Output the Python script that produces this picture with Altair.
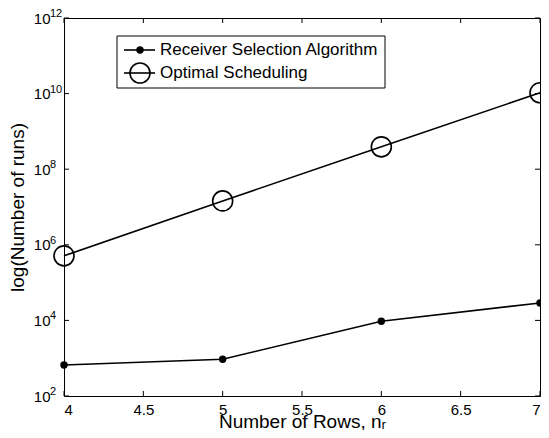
import altair as alt
import pandas as pd

# ---- data ----
nr = [4, 5, 6, 7]
receiver_runs = [660, 940, 9500, 29000]
optimal_runs = [5.1e5, 1.45e7, 3.9e8, 1.05e10]
series_names = ["Receiver Selection Algorithm", "Optimal Scheduling"]
x_ticks = [4, 4.5, 5, 5.5, 6, 6.5, 7]
y_exponents = [2, 4, 6, 8, 10, 12]
y_ticks = [10 ** e for e in y_exponents]

W, H = 476, 378
FONT = "Liberation Sans"

df = pd.DataFrame({
    "nr": nr * 2,
    "runs": receiver_runs + optimal_runs,
    "series": [series_names[0]] * len(nr) + [series_names[1]] * len(nr),
})

x_enc = alt.X(
    "nr:Q",
    scale=alt.Scale(domain=[4, 7], nice=False, zero=False),
    axis=alt.Axis(values=x_ticks, format="~g", title="Number of Rows, nᵣ",
                  ticks=False, domain=False, grid=False,
                  labelFontSize=15, labelPadding=6,
                  titleFontSize=19, titleFontWeight="normal",
                  titleY=31, titleBaseline="alphabetic"),
)
y_enc = alt.Y(
    "runs:Q",
    scale=alt.Scale(type="log", domain=[1e2, 1e12], nice=False),
    axis=alt.Axis(values=y_ticks, labelExpr="'10'", title="log(Number of runs)",
                  ticks=False, domain=False, grid=False,
                  labelFontSize=15, labelPadding=14, labelBaseline="middle",
                  titleFontSize=19, titleFontWeight="normal",
                  titleAngle=270, titleX=-37, titleY=H / 2, titleBaseline="bottom"),
)

base = alt.Chart(df)

lines = base.mark_line(color="black", strokeWidth=1.6).encode(
    x=x_enc, y=y_enc, detail="series:N")
pts_recv = base.transform_filter(alt.datum.series == series_names[0]).mark_point(
    shape="circle", filled=True, color="black", size=55, opacity=1).encode(x=x_enc, y=y_enc)
pts_opt = base.transform_filter(alt.datum.series == series_names[1]).mark_point(
    shape="circle", filled=False, color="black", size=400, strokeWidth=1.6, opacity=1).encode(x=x_enc, y=y_enc)

xt = alt.Chart(pd.DataFrame({"nr": x_ticks}))
yt = alt.Chart(pd.DataFrame({"runs": y_ticks, "exp": [str(e) for e in y_exponents]}))
tick_layers = [
    xt.mark_rule(color="black", strokeWidth=1).encode(x=x_enc, y=alt.value(H), y2=alt.value(H - 5)),
    xt.mark_rule(color="black", strokeWidth=1).encode(x=x_enc, y=alt.value(0), y2=alt.value(5)),
    yt.mark_rule(color="black", strokeWidth=1).encode(y=y_enc, x=alt.value(0), x2=alt.value(5)),
    yt.mark_rule(color="black", strokeWidth=1).encode(y=y_enc, x=alt.value(W), x2=alt.value(W - 5)),
    # exponents of the 10^n tick labels
    yt.mark_text(align="left", baseline="alphabetic", font=FONT, fontSize=11,
                 color="black", dy=-1).encode(y=y_enc, x=alt.value(-14), text="exp:N"),
]

legend_df = pd.DataFrame({"label": series_names})
lg = alt.Chart(legend_df)
legend_layers = [
    lg.transform_filter(alt.datum.label == series_names[0]).mark_rect(
        fill="white", stroke="black", strokeWidth=1).encode(
        x=alt.value(53), x2=alt.value(321), y=alt.value(18), y2=alt.value(70)),
]
row_y = [32, 55]
for i, name in enumerate(series_names):
    row = lg.transform_filter(alt.datum.label == name)
    legend_layers.append(row.mark_rule(color="black", strokeWidth=1.6).encode(
        x=alt.value(60), x2=alt.value(91), y=alt.value(row_y[i])))
    if i == 0:
        legend_layers.append(row.mark_point(shape="circle", filled=True, color="black",
                                            size=55, opacity=1).encode(
            x=alt.value(76), y=alt.value(row_y[i])))
    else:
        legend_layers.append(row.mark_point(shape="circle", filled=False, color="black",
                                            size=400, strokeWidth=1.6, opacity=1).encode(
            x=alt.value(76), y=alt.value(row_y[i])))
    legend_layers.append(row.mark_text(align="left", baseline="middle", font=FONT,
                                       fontSize=17, color="black").encode(
        x=alt.value(96), y=alt.value(row_y[i]), text="label:N"))

chart = alt.layer(lines, pts_recv, pts_opt, *tick_layers, *legend_layers).properties(
    width=W, height=H,
    padding={"left": 56, "top": 10, "right": 1, "bottom": 34},
    autosize=alt.AutoSizeParams(type="none"),
).configure_view(stroke="black", strokeWidth=1).configure_axis(
    labelFont=FONT, titleFont=FONT, labelColor="black", titleColor="black",
)

chart.save("out.html", embed_options={"renderer": "svg", "actions": False})
